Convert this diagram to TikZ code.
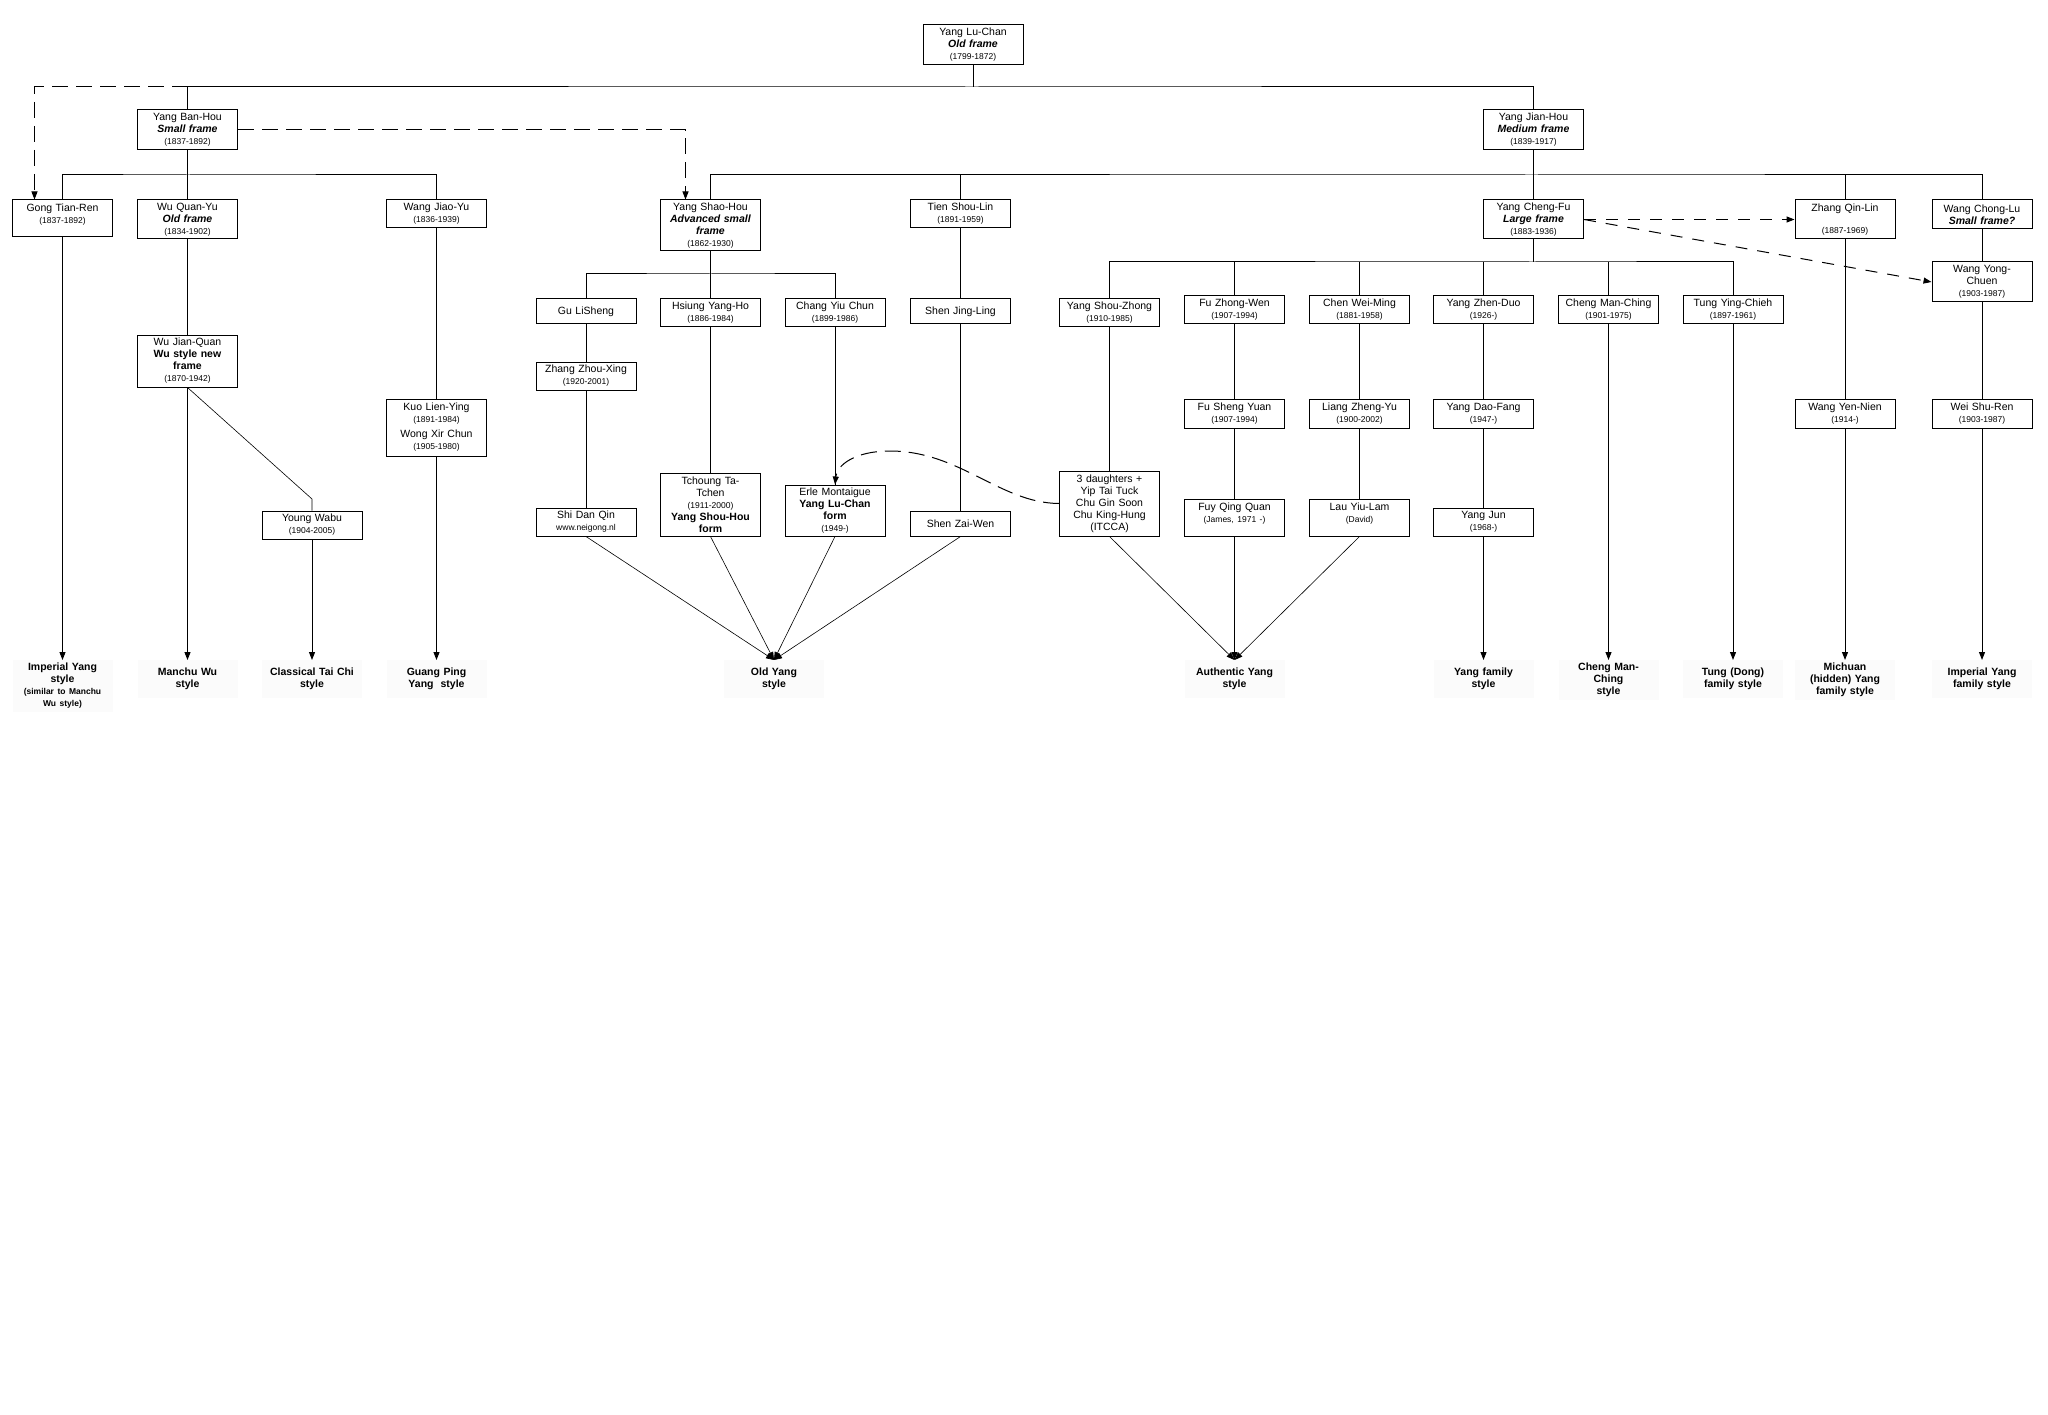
\documentclass[tikz,border=0pt]{standalone}
\usepackage{fontspec}
\setmainfont{Liberation Sans}
\usetikzlibrary{arrows.meta}
\newcommand{\yr}[1]{{\fontsize{8.5}{10}\selectfont #1}}
\newcommand{\frm}[1]{\textbf{\textit{#1}}}
\newcommand{\lbsmall}[1]{{\fontsize{8.5}{10}\selectfont #1}}
\tikzset{
	person/.style={draw, line width=1pt, fill=white, text width=94pt, inner xsep=3pt, inner ysep=1pt, align=center, font=\fontsize{10.5}{12}\selectfont},
	lineage/.style={anchor=north, fill=black!1.5, text width=94pt, inner sep=3pt, align=center, minimum height=38pt, font=\fontsize{10.5}{12}\selectfont\bfseries},
	link/.style={line width=1pt},
	diag/.style={line width=0.6pt},
	dashlink/.style={line width=1pt, dash pattern=on 16pt off 8pt},
	shortdash/.style={line width=1pt, dash pattern=on 12pt off 10pt},
}
\begin{document}
\begin{tikzpicture}[x=1pt, y=-1pt, >={Triangle[length=8pt,width=6pt]}]
	\fill[white] (0,0) rectangle (2048,1415);
	\useasboundingbox (0,0) rectangle (2048,1415);
	% founders
	\node[person, minimum height=40pt] (luchan) at (973,45) {Yang Lu-Chan\\\frm{Old frame}\\\yr{(1799-1872)}};
	\node[person, minimum height=40pt] (banhou) at (187.5,130) {Yang Ban-Hou\\\frm{Small frame}\\\yr{(1837-1892)}};
	\node[person, minimum height=40pt] (jianhou) at (1533.5,130) {Yang Jian-Hou\\\frm{Medium frame}\\\yr{(1839-1917)}};
	% second generation
	\node[person, minimum height=37pt] (gong) at (62.5,218.5) {Gong Tian-Ren\\\yr{(1837-1892)}\\[-2pt]\mbox{}};
	\node[person, minimum height=39pt] (wuquanyu) at (187.5,219.5) {Wu Quan-Yu\\\frm{Old frame}\\\yr{(1834-1902)}};
	\node[person, minimum height=28pt] (wangjiaoyu) at (436.5,214) {Wang Jiao-Yu\\\yr{(1836-1939)}};
	\node[person, minimum height=51pt] (shaohou) at (710.5,225.5) {Yang Shao-Hou\\\frm{Advanced small}\\\frm{frame}\\\yr{(1862-1930)}};
	\node[person, minimum height=28pt] (tien) at (960.5,214) {Tien Shou-Lin\\\yr{(1891-1959)}};
	\node[person, minimum height=39pt] (chengfu) at (1533.5,219.5) {Yang Cheng-Fu\\\frm{Large frame}\\\yr{(1883-1936)}};
	\node[person, minimum height=39pt] (zhang) at (1845,219.5) {Zhang Qin-Lin\\[10pt]\yr{(1887-1969)}};
	\node[person, minimum height=29pt] (chonglu) at (1982,214.5) {Wang Chong-Lu\\\frm{Small frame?}};
	% third generation
	\node[person, minimum height=52pt] (jianquan) at (187.5,361) {Wu Jian-Quan\\\textbf{Wu style new}\\\textbf{frame}\\\yr{(1870-1942)}};
	\node[person, minimum height=25pt] (gu) at (586,311.5) {Gu LiSheng};
	\node[person, minimum height=28pt] (hsiung) at (710.5,313) {Hsiung Yang-Ho\\\yr{(1886-1984)}};
	\node[person, minimum height=28pt] (chang) at (835,313) {Chang Yiu Chun\\\yr{(1899-1986)}};
	\node[person, minimum height=25pt] (shenjl) at (960.5,311.5) {Shen Jing-Ling};
	\node[person, minimum height=28pt] (shouzhong) at (1109.5,313) {Yang Shou-Zhong\\\yr{(1910-1985)}};
	\node[person, minimum height=28pt] (fuzw) at (1234.5,310) {Fu Zhong-Wen\\\yr{(1907-1994)}};
	\node[person, minimum height=28pt] (chenwm) at (1359.5,310) {Chen Wei-Ming\\\yr{(1881-1958)}};
	\node[person, minimum height=28pt] (zhenduo) at (1483.5,310) {Yang Zhen-Duo\\\yr{(1926-)}};
	\node[person, minimum height=28pt] (cmc) at (1608.5,310) {Cheng Man-Ching\\\yr{(1901-1975)}};
	\node[person, minimum height=28pt] (tung) at (1733,310) {Tung Ying-Chieh\\\yr{(1897-1961)}};
	\node[person, minimum height=40pt] (yongchuen) at (1982,282) {Wang Yong-\\Chuen\\\yr{(1903-1987)}};
	% fourth generation
	\node[person, minimum height=28pt] (zhouxing) at (586,376) {Zhang Zhou-Xing\\\yr{(1920-2001)}};
	\node[person, minimum height=57pt] (kuo) at (436.5,427.5) {Kuo Lien-Ying\\\yr{(1891-1984)}\\[3pt]Wong Xir Chun\\\yr{(1905-1980)}};
	\node[person, minimum height=29pt] (fusy) at (1234.5,413.5) {Fu Sheng Yuan\\\yr{(1907-1994)}};
	\node[person, minimum height=29pt] (liang) at (1359.5,413.5) {Liang Zheng-Yu\\\yr{(1900-2002)}};
	\node[person, minimum height=29pt] (daofang) at (1483.5,413.5) {Yang Dao-Fang\\\yr{(1947-)}};
	\node[person, minimum height=29pt] (yennien) at (1845,413.5) {Wang Yen-Nien\\\yr{(1914-)}};
	\node[person, minimum height=29pt] (shuren) at (1982,413.5) {Wei Shu-Ren\\\yr{(1903-1987)}};
	% fifth generation
	\node[person, minimum height=28pt] (wabu) at (312,525) {Young Wabu\\\yr{(1904-2005)}};
	\node[person, minimum height=28pt] (shidq) at (586,522) {Shi Dan Qin\\\yr{www.neigong.nl}};
	\node[person, minimum height=63pt] (tchoung) at (710.5,504.5) {Tchoung Ta-\\Tchen\\\yr{(1911-2000)}\\\textbf{Yang Shou-Hou}\\\textbf{form}};
	\node[person, minimum height=51pt] (erle) at (835,510.5) {Erle Montaigue\\\textbf{Yang Lu-Chan}\\\textbf{form}\\\yr{(1949-)}};
	\node[person, minimum height=25pt] (shenzw) at (960.5,523.5) {Shen Zai-Wen};
	\node[person, minimum height=65pt] (daughters) at (1109.5,503.5) {3 daughters +\\Yip Tai Tuck\\Chu Gin Soon\\Chu King-Hung\\(ITCCA)};
	\node[person, minimum height=37pt] (fuyqq) at (1234.5,517.5) {Fuy Qing Quan\\\yr{(James, 1971 -)}\\[-2pt]\mbox{}};
	\node[person, minimum height=37pt] (lau) at (1359.5,517.5) {Lau Yiu-Lam\\\yr{(David)}\\[-2pt]\mbox{}};
	\node[person, minimum height=28pt] (yangjun) at (1483.5,522) {Yang Jun\\\yr{(1968-)}};
	% styles
	\node[lineage] (imperial) at (62.5,660) {Imperial Yang\\style\\\lbsmall{(similar to Manchu}\\\lbsmall{Wu style)}};
	\node[lineage] (manchu) at (187.5,660) {Manchu Wu\\style};
	\node[lineage] (classical) at (312,660) {Classical Tai Chi\\style};
	\node[lineage] (guangping) at (436.5,660) {Guang Ping\\Yang~ style};
	\node[lineage] (oldyang) at (774,660) {Old Yang\\style};
	\node[lineage] (authentic) at (1234.5,660) {Authentic Yang\\style};
	\node[lineage] (yangfamily) at (1483.5,660) {Yang family\\style};
	\node[lineage] (cmcstyle) at (1608.5,660) {Cheng Man-\\Ching\\style};
	\node[lineage] (tungstyle) at (1733,660) {Tung (Dong)\\family style};
	\node[lineage] (michuan) at (1845,660) {Michuan\\(hidden) Yang\\family style};
	\node[lineage] (imperialfam) at (1982,660) {Imperial Yang\\family style};

	\coordinate (busTop) at (973,87);
	\coordinate (busBanHou) at (187.5,175);
	\coordinate (busJianHou) at (1533.5,175);
	\coordinate (busShaoHou) at (710.5,274);
	\coordinate (busChengFu) at (1533.5,262);
	\coordinate (bendWabu) at (312,499);

	\draw[link] (luchan) -- (busTop);
	\draw[link] (banhou.north) |- (busTop) -| (jianhou.north);
	\draw[link] (gong.north) |- (busBanHou) -| (wangjiaoyu.north);
	\draw[link] (shaohou.north) |- (busJianHou) -| (chonglu.north);
	\draw[link] (tien.north) -- (tien |- busJianHou) (zhang.north) -- (zhang |- busJianHou);
	\draw[link] (gu.north) |- (busShaoHou) -| (chang.north);
	\draw[link] (chengfu) -- (busChengFu);
	\draw[link] (shouzhong.north) |- (busChengFu) -| (tung.north);
	\foreach \n in {fuzw,chenwm,zhenduo,cmc}
		\draw[link] (\n.north) -- (\n |- busChengFu);
	\path[link]
		(banhou) edge (wuquanyu) (jianhou) edge (chengfu)
		(wuquanyu) edge (jianquan) (wangjiaoyu) edge (kuo)
		(shaohou) edge (hsiung) (gu) edge (zhouxing) (zhouxing) edge (shidq)
		(hsiung) edge (tchoung) (chang) edge (erle)
		(tien) edge (shenjl) (shenjl) edge (shenzw)
		(shouzhong) edge (daughters) (fuzw) edge (fusy) (fusy) edge (fuyqq)
		(chenwm) edge (liang) (liang) edge (lau)
		(zhenduo) edge (daofang) (daofang) edge (yangjun)
		(zhang) edge (yennien) (chonglu) edge (yongchuen) (yongchuen) edge (shuren);
	\draw[diag] (jianquan.south) -- (bendWabu) -- (wabu.north);
	\path[link,->]
		(gong) edge (imperial) (jianquan) edge (manchu) (wabu) edge (classical)
		(kuo) edge (guangping) (fuyqq) edge (authentic) (yangjun) edge (yangfamily)
		(cmc) edge (cmcstyle) (tung) edge (tungstyle) (yennien) edge (michuan)
		(shuren) edge (imperialfam);
	\path[diag,->]
		(shidq.south) edge (oldyang.north) (tchoung.south) edge (oldyang.north)
		(erle.south) edge (oldyang.north) (shenzw.south) edge (oldyang.north)
		(daughters.south) edge (authentic.north) (lau.south) edge (authentic.north);
	\draw[dashlink,->] (banhou.north |- busTop) -| ([xshift=-28pt]gong.north);
	\draw[dashlink,->] (banhou.east) -| ([xshift=-25pt]shaohou.north);
	\draw[shortdash,->] (chengfu.east) -- (zhang.west);
	\draw[shortdash,->] (chengfu.east) -- (yongchuen.west);
	\draw[dashlink,->] (daughters.west) .. controls (1000,503) and (960,451) .. (890,451) .. controls (855,451) and (837,465) .. (erle.north);
\end{tikzpicture}
\end{document}
